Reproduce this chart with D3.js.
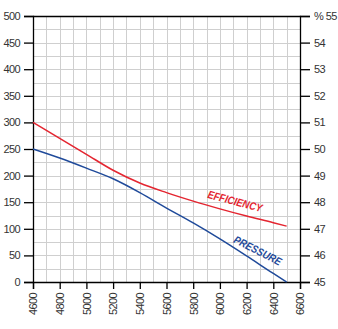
<!DOCTYPE html>
<html>
<head>
<meta charset="utf-8">
<script src="https://cdn.jsdelivr.net/npm/d3@7.9.0/dist/d3.min.js"></script>
<style>
  body { margin: 0; background: #fff; }
  svg { display: block; }
  .tick text { font-family: "Liberation Sans", Arial, sans-serif; font-size: 11px; fill: #333; letter-spacing: -0.6px; }
  .curve-label { font-family: "Liberation Sans", Arial, sans-serif; font-size: 11px; font-style: italic; font-weight: bold; }
</style>
</head>
<body>
<svg id="chart" width="338" height="329"></svg>
<script>
// rpm vs pressure / efficiency
const rpm = [4600, 4800, 5000, 5200, 5400, 5600, 5800, 6000, 6200, 6400, 6500];
const pressure = [250, 233, 214, 194, 168, 139, 111, 81, 49, 16, 0];
const efficiency = [51.0, 50.4, 49.8, 49.2, 48.72, 48.36, 48.04, 47.75, 47.48, 47.23, 47.1];

const xTicks = [4600, 4800, 5000, 5200, 5400, 5600, 5800, 6000, 6200, 6400, 6600];
const leftTicks = [0, 50, 100, 150, 200, 250, 300, 350, 400, 450, 500];
const rightTicks = [45, 46, 47, 48, 49, 50, 51, 52, 53, 54, 55];

const svg = d3.select('#chart');
const plotL = 33, plotR = 300, plotT = 16, plotB = 282;

const x = d3.scaleLinear().domain([4600, 6600]).range([plotL, plotR]);
const yP = d3.scaleLinear().domain([0, 500]).range([plotB, plotT]);
const yE = d3.scaleLinear().domain([45, 55]).range([plotB, plotT]);

// grid
const grid = svg.append('g').attr('stroke', '#cfcfcf').attr('stroke-width', 1);
d3.range(4700, 6600, 100).forEach(v => {
  const px = Math.round(x(v)) + 0.5;
  grid.append('line').attr('x1', px).attr('x2', px).attr('y1', plotT).attr('y2', plotB);
});
d3.range(25, 500, 25).forEach(v => {
  const py = Math.round(yP(v)) + 0.5;
  grid.append('line').attr('x1', plotL).attr('x2', plotR).attr('y1', py).attr('y2', py);
});

// top frame
svg.append('line')
  .attr('x1', plotL).attr('x2', plotR + 0.5)
  .attr('y1', plotT + 0.5).attr('y2', plotT + 0.5)
  .attr('stroke', '#000').attr('stroke-width', 1.3);

// axes
const axL = svg.append('g').attr('transform', `translate(${plotL},0)`)
  .call(d3.axisLeft(yP).tickValues(leftTicks).tickSize(9).tickPadding(4));
const axR = svg.append('g').attr('transform', `translate(${plotR},0)`)
  .call(d3.axisRight(yE).tickValues(rightTicks).tickSize(10).tickPadding(4)
    .tickFormat(d => d === 55 ? '% 55' : d));
const axB = svg.append('g').attr('transform', `translate(0,${plotB})`)
  .call(d3.axisBottom(x).tickValues(xTicks).tickSize(7).tickFormat(d3.format('d')));
axB.selectAll('.tick text')
  .attr('transform', 'rotate(-90)')
  .attr('text-anchor', 'end')
  .attr('x', -11).attr('y', 0).attr('dy', '0.35em');

[axL, axR, axB].forEach(a => {
  a.select('.domain').attr('stroke', '#000').attr('stroke-width', 1.3);
  a.selectAll('.tick line').attr('stroke', '#000').attr('stroke-width', 1.3);
});

const rows = rpm.map((r, i) => ({ r, p: pressure[i], e: efficiency[i] }));

svg.append('path')
  .datum(rows)
  .attr('fill', 'none')
  .attr('stroke', '#e42530')
  .attr('stroke-width', 1.5)
  .attr('d', d3.line().x(d => x(d.r)).y(d => yE(d.e)).curve(d3.curveMonotoneX));

svg.append('path')
  .datum(rows)
  .attr('fill', 'none')
  .attr('stroke', '#1f4a9a')
  .attr('stroke-width', 1.5)
  .attr('d', d3.line().x(d => x(d.r)).y(d => yP(d.p)).curve(d3.curveMonotoneX));

svg.append('text')
  .attr('class', 'curve-label')
  .attr('fill', '#e42530')
  .attr('text-anchor', 'middle')
  .attr('textLength', 56)
  .attr('lengthAdjust', 'spacingAndGlyphs')
  .attr('transform', 'translate(234,205) rotate(15)')
  .text('EFFICIENCY');

svg.append('text')
  .attr('class', 'curve-label')
  .attr('fill', '#1f4a9a')
  .attr('text-anchor', 'middle')
  .attr('textLength', 52)
  .attr('lengthAdjust', 'spacingAndGlyphs')
  .attr('transform', 'translate(256,254) rotate(27)')
  .text('PRESSURE');
</script>
</body>
</html>
